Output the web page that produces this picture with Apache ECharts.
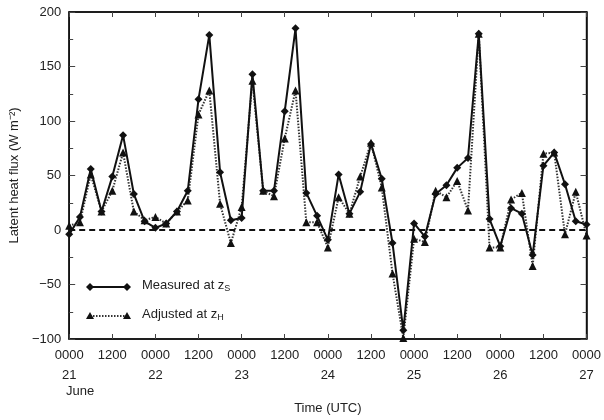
<!DOCTYPE html>
<html>
<head>
<meta charset="utf-8">
<script src="https://cdn.jsdelivr.net/npm/echarts@6/dist/echarts.min.js"></script>
<style>html,body{margin:0;padding:0;background:#fff}#c{width:604px;height:420px}</style>
</head>
<body>
<div id="c"></div>
<script>
// hours since 0000 UTC 21 June
const hours = [0,3,6,9,12,15,18,21,24,27,30,33,36,39,42,45,48,51,54,57,60,63,66,69,72,75,78,81,84,87,90,93,96,99,102,105,108,111,114,117,120,123,126,129,132,135,138,141,144];
const measured = [-4,12,56,17,49,87,33,8,2,6,17,36,120,179,53,9,11,143,36,36,109,185,34,13,-9,51,15,35,79,47,-12,-92,6,-6,33,41,57,66,180,10,-15,20,15,-23,59,71,42,8,5];
const adjusted = [4,7,51,17,36,71,17,9,12,6,17,27,106,128,24,-12,21,137,36,31,84,128,7,7,-16,30,15,49,80,39,-40,-99,-8,-11,36,30,45,18,180,-16,-16,28,34,-33,70,71,-4,35,-5];
const yTicks = [-100,-50,0,50,100,150,200];
const dayLabels = ['21','22','23','24','25','26','27'];

const font = '"Liberation Sans", Arial, Helvetica, sans-serif';
const chart = echarts.init(document.getElementById('c'), null, {renderer:'canvas'});
const pairM = hours.map((h,i)=>[h,measured[i]]);
const pairA = hours.map((h,i)=>[h,adjusted[i]]);

const axisLine = {show:true, onZero:false, lineStyle:{color:'#111', width:1.5}};
const xTick = {show:true, inside:true, length:5, lineStyle:{color:'#444', width:1}};
const yTick = {show:true, inside:true, length:6, lineStyle:{color:'#444', width:1}};
const yMinor = {show:true, splitNumber:2, length:4, lineStyle:{color:'#444', width:1}};
chart.setOption({
  animation:false,
  backgroundColor:'#fff',
  grid:{left:66, right:16, top:12, bottom:77, show:true, borderColor:'#111', borderWidth:1.5, backgroundColor:'transparent'},
  xAxis:[{
    type:'value', min:0, max:144, interval:12, position:'bottom',
    axisLine:axisLine, axisTick:xTick, splitLine:{show:false},
    axisLabel:{fontFamily:font, fontSize:13, color:'#222', lineHeight:20, margin:6,
      formatter:v=> (v%24===0) ? '0000\n'+dayLabels[v/24] : '1200'},
    name:'Time (UTC)', nameLocation:'middle', nameGap:63,
    nameTextStyle:{fontFamily:font, fontSize:13, color:'#222'}
  },{
    type:'value', min:0, max:144, interval:12, position:'top',
    axisLine:axisLine, axisTick:xTick,
    axisLabel:{show:false}, splitLine:{show:false}
  }],
  yAxis:[{
    type:'value', min:yTicks[0], max:yTicks[yTicks.length-1], interval:50, position:'left',
    axisLine:axisLine, axisTick:yTick, minorTick:yMinor,
    splitLine:{show:false}, minorSplitLine:{show:false},
    axisLabel:{fontFamily:font, fontSize:13, color:'#222', margin:8,
      formatter:v=> v<0 ? '\u2212'+(-v) : String(v)},
    name:'Latent heat flux (W m\u207B\u00B2)', nameLocation:'middle', nameGap:32,
    nameTextStyle:{fontFamily:font, fontSize:13, color:'#222'}
  },{
    type:'value', min:yTicks[0], max:yTicks[yTicks.length-1], interval:50, position:'right',
    axisLine:axisLine, axisTick:yTick, minorTick:yMinor,
    axisLabel:{show:false}, splitLine:{show:false}, minorSplitLine:{show:false}
  }],
  series:[{
    name:'Adjusted', type:'line', data:pairA, xAxisIndex:0, yAxisIndex:0,
    symbol:'triangle', symbolSize:8, showAllSymbol:true,
    lineStyle:{color:'#333', width:2, type:[1.5,1.5]},
    itemStyle:{color:'#111'},
    markLine:{silent:true, symbol:'none', label:{show:false},
      lineStyle:{color:'#111', width:2, type:[6,4]},
      data:[{yAxis:0}]},
    z:2
  },{
    name:'Measured', type:'line', data:pairM, xAxisIndex:0, yAxisIndex:0,
    symbol:'diamond', symbolSize:8, showAllSymbol:true,
    lineStyle:{color:'#111', width:2},
    itemStyle:{color:'#111'},
    z:3
  },{
    name:'frame', type:'line', data:[], xAxisIndex:1, yAxisIndex:1, silent:true
  }],
  graphic:[
    {type:'text', left:66, top:385, style:{text:'June', fontFamily:font, fontSize:13, fill:'#222'}},
    {type:'line', shape:{x1:90,y1:287,x2:127,y2:287}, style:{stroke:'#111', lineWidth:2}},
    {type:'polygon', shape:{points:[[90,283],[94,287],[90,291],[86,287]]}, style:{fill:'#111'}},
    {type:'polygon', shape:{points:[[127,283],[131,287],[127,291],[123,287]]}, style:{fill:'#111'}},
    {type:'text', left:142, top:279, style:{rich:{n:{fontFamily:font,fontSize:13,fill:'#222'},s:{fontFamily:font,fontSize:9,fill:'#222',padding:[6,0,0,0]}}, text:'{n|Measured at z}{s|S}'}},
    {type:'line', shape:{x1:90,y1:316,x2:127,y2:316}, style:{stroke:'#333', lineWidth:2, lineDash:[1.5,1.5]}},
    {type:'polygon', shape:{points:[[90,312],[94,319],[86,319]]}, style:{fill:'#111'}},
    {type:'polygon', shape:{points:[[127,312],[131,319],[123,319]]}, style:{fill:'#111'}},
    {type:'text', left:142, top:308, style:{rich:{n:{fontFamily:font,fontSize:13,fill:'#222'},s:{fontFamily:font,fontSize:9,fill:'#222',padding:[6,0,0,0]}}, text:'{n|Adjusted at z}{s|H}'}}
  ]
});
</script>
</body>
</html>
